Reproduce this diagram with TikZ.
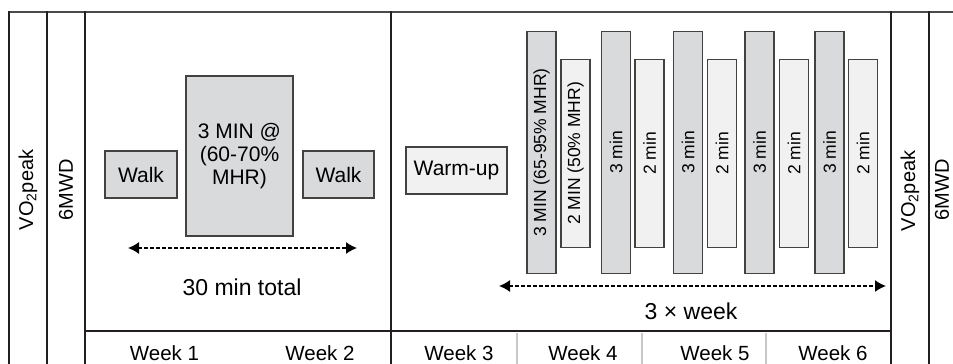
\documentclass[tikz,border=0pt]{standalone}
\usepackage{fontspec}
\setmainfont{Liberation Sans}
\usetikzlibrary{arrows.meta}

\definecolor{barDark}{HTML}{D9DADC}
\definecolor{barLight}{HTML}{F1F1F1}
\definecolor{ruleDark}{HTML}{231F20}
\definecolor{ruleSoft}{HTML}{C8C8C8}
\definecolor{ruleTop}{HTML}{4A4A4A}

\tikzset{
  frameline/.style={line width=2.8pt, draw=ruleDark},
  topline/.style={line width=2.2pt, draw=ruleTop},
  softline/.style={line width=2pt, draw=ruleSoft},
  box/.style={draw=ruleDark!85, line width=1.6pt, inner sep=0pt, align=center,
    font=\fontsize{21}{23}\selectfont},
  darkbox/.style={box, fill=barDark},
  lightbox/.style={box, fill=barLight},
  bar/.style={draw=ruleDark!85, line width=1.6pt, inner sep=0pt, rotate=90,
    minimum height=29pt, font=\fontsize{17.5}{19}\selectfont},
  span/.style={line width=1.4pt, dash pattern=on 4pt off 2pt,
    {Latex[length=11pt,width=12pt]}-{Latex[length=11pt,width=12pt]}},
  plain/.style={font=\fontsize{23}{25}\selectfont},
  week/.style={font=\fontsize{20.5}{22}\selectfont},
  side/.style={rotate=90, font=\fontsize{20}{22}\selectfont}
}

\begin{document}
\begin{tikzpicture}[x=1pt,y=-1pt]
  \useasboundingbox (0,0) rectangle (953,364);

  % table lines
  \draw[topline] (9,12) -- (953,12);
  \foreach \xx in {9,47,85,391,891,929}
    \draw[frameline] (\xx,11) -- (\xx,364);
  \draw[frameline] (85,331) -- (891,331);
  \foreach \xx in {517,642,766}
    \draw[softline] (\xx,332.5) -- (\xx,364);

  % outcome columns
  \node[side] (vo2left) at (28,190) {VO\textsubscript{2}peak};
  \node[side] (mwdleft) at (66,190) {6MWD};
  \node[side] (vo2right) at (910,191) {VO\textsubscript{2}peak};
  \node[side] (mwdright) at (942,190) {6MWD};

  % weeks 1-2
  \node[darkbox, minimum width=72pt, minimum height=47pt] (walk1) at (141,174.5) {Walk};
  \node[darkbox, minimum width=107pt, minimum height=160pt] (steady) at (239.5,156)
    {3 MIN @\\(60-70\%\\MHR)};
  \node[darkbox, minimum width=71pt, minimum height=47pt] (walk2) at (338.5,174.5) {Walk};
  \coordinate (span1l) at (128,248);
  \coordinate (span1r) at (357,248);
  \draw[span] (span1l) -- (span1r);
  \node[plain] (total) at (242,287) {30 min total};

  % weeks 3-6
  \node[lightbox, minimum width=101pt, minimum height=47pt] (warmup) at (456.5,170.5) {Warm-up};
  \foreach \xx/\name/\txt in {541.5/hi1/3 MIN (65-95\% MHR), 616/hi2/3 min,
      688/hi3/3 min, 759.5/hi4/3 min, 829.5/hi5/3 min}
    \node[bar, fill=barDark, minimum width=242pt] (\name) at (\xx,152.5) {\txt};
  \foreach \xx/\name/\txt in {575.5/lo1/2 MIN (50\% MHR), 649.5/lo2/2 min,
      722/lo3/2 min, 794/lo4/2 min, 863/lo5/2 min}
    \node[bar, fill=barLight, minimum width=188pt] (\name) at (\xx,153.5) {\txt};
  \coordinate (span2l) at (499,286);
  \coordinate (span2r) at (886,286);
  \draw[span] (span2l) -- (span2r);
  \node[plain] (freq) at (691,311) {3 × week};

  % week row
  \node[week] (wk1) at (164.5,353) {Week 1};
  \node[week] (wk2) at (320,353) {Week 2};
  \node[week] (wk3) at (459,353) {Week 3};
  \node[week] (wk4) at (583,353) {Week 4};
  \node[week] (wk5) at (715,353) {Week 5};
  \node[week] (wk6) at (833,353) {Week 6};
\end{tikzpicture}
\end{document}
